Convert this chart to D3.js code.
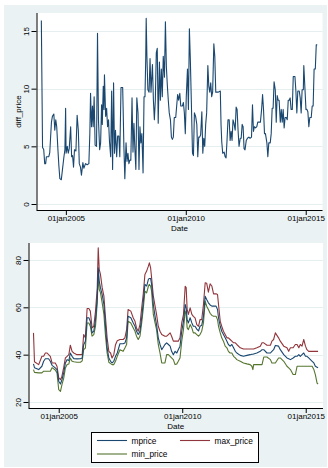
<!DOCTYPE html>
<html>
<head>
<meta charset="utf-8">
<script src="https://cdn.jsdelivr.net/npm/d3@7"></script>
<style>
  html, body { margin: 0; padding: 0; background: #ffffff; }
  svg { display: block; }
  text { font-family: "Liberation Sans", Arial, Helvetica, sans-serif; fill: #000; }
</style>
</head>
<body>
<svg id="chart" width="328" height="468"></svg>
<script>
// Weekly spread between highest and lowest quoted price (decimal years)
const diffDates = [
  2003.98,2004.03,2004.06,2004.08,2004.12,2004.16,2004.19,2004.29,2004.33,2004.36,
  2004.40,2004.44,2004.50,2004.54,2004.58,2004.62,2004.67,2004.71,2004.75,2004.81,
  2004.86,2004.92,2004.96,2004.99,2005.01,2005.06,2005.10,2005.14,2005.20,2005.24,
  2005.28,2005.32,2005.36,2005.42,2005.47,2005.52,2005.56,2005.61,2005.65,2005.71,
  2005.75,2005.82,2005.89,2005.96,2006.00,2006.03,2006.07,2006.11,2006.14,2006.18,
  2006.22,2006.28,2006.32,2006.36,2006.41,2006.45,2006.49,2006.52,2006.56,2006.59,
  2006.61,2006.66,2006.70,2006.74,2006.78,2006.82,2006.87,2006.91,2006.95,2006.99,
  2007.03,2007.07,2007.12,2007.16,2007.21,2007.25,2007.30,2007.37,2007.39,2007.42,
  2007.46,
  2007.51,2007.55,2007.59,2007.63,2007.67,2007.71,2007.76,2007.80,2007.84,2007.88,
  2007.92,2007.96,2008.01,2008.05,2008.09,2008.13,2008.17,2008.22,2008.26,2008.30,
  2008.33,2008.35,2008.38,2008.42,2008.47,2008.51,2008.55,2008.61,2008.65,2008.69,
  2008.73,2008.77,2008.81,2008.85,2008.90,2008.94,2008.98,2009.02,2009.06,2009.11,
  2009.15,2009.19,2009.23,2009.27,2009.31,2009.36,2009.40,2009.44,2009.48,2009.52,
  2009.58,2009.62,2009.66,2009.70,2009.75,2009.79,2009.86,2009.90,2009.94,2009.98,
  2010.02,2010.07,2010.11,2010.15,2010.19,2010.23,2010.28,2010.32,2010.36,2010.41,
  2010.46,2010.50,2010.54,2010.58,2010.62,2010.67,2010.71,2010.75,2010.79,2010.83,
  2010.87,2010.92,2010.96,2011.00,2011.04,2011.08,2011.12,2011.17,2011.21,2011.25,
  2011.31,2011.36,2011.44,
  2011.47,2011.50,2011.54,2011.60,2011.64,2011.68,2011.72,2011.76,2011.81,2011.85,
  2011.89,2011.93,2011.97,2012.01,2012.06,2012.10,2012.14,2012.18,2012.22,2012.27,
  2012.31,2012.35,2012.39,2012.43,2012.47,2012.52,2012.57,2012.63,2012.68,2012.74,
  2012.78,2012.82,2012.86,2012.91,2012.96,2013.00,2013.06,2013.11,2013.16,2013.20,
  2013.24,2013.28,2013.32,2013.38,2013.42,2013.46,2013.52,2013.56,2013.60,2013.64,
  2013.68,2013.73,2013.77,2013.81,2013.85,2013.89,2013.94,2013.98,2014.02,2014.06,
  2014.10,2014.14,2014.19,2014.23,2014.27,2014.31,2014.35,2014.39,2014.44,2014.48,
  2014.55,2014.59,2014.63,2014.67,2014.73,2014.77,2014.81,2014.85,2014.90,2014.92,
  2014.97,2015.01,2015.05,2015.09,2015.13,2015.17,2015.23,2015.27,2015.31,2015.35,
  2015.40,2015.44,2015.48
];
const diffPrice = [
  15.9,4.9,4.8,4.7,3.5,3.5,4.1,4.1,4.45,5.6,
  7.1,7.6,7.8,6.4,7.3,6.7,4.7,3.3,2.2,2.1,
  3.0,4.1,4.7,8.3,4.4,5.0,4.4,4.8,6.7,4.1,
  4.2,3.2,4.7,4.6,7.7,6.4,3.5,3.2,2.5,3.6,
  3.1,3.5,3.4,3.5,6.1,9.6,6.7,8.5,6.7,9.3,
  5.1,5.0,14.8,7.3,4.7,5.3,8.6,6.9,10.2,8.2,
  11.2,7.6,8.3,6.7,7.3,5.4,4.1,9.8,3.0,10.5,
  4.4,6.4,4.1,5.9,5.9,4.1,10.1,10.1,8.2,5.0,
  2.2,
  5.3,3.7,4.4,3.5,3.8,3.8,9.2,4.5,7.0,4.7,
  3.0,9.2,7.9,3.0,6.7,5.3,6.1,2.7,9.3,9.3,
  12.5,16.1,12.8,9.9,9.7,12.6,9.7,12.1,9.0,7.3,
  9.0,13.1,13.5,7.0,12.3,9.0,11.7,9.3,12.8,11.0,
  15.8,11.9,10.3,9.0,7.9,7.3,5.8,5.6,5.8,7.5,
  7.5,8.5,9.5,9.0,9.6,8.5,8.5,8.8,7.9,6.1,
  9.3,11.7,8.2,15.2,12.5,9.0,4.4,4.2,7.9,7.6,
  6.9,4.1,5.8,5.8,6.0,8.0,4.4,5.7,5.0,6.9,
  7.9,12.0,10.2,9.7,10.5,9.3,9.7,13.9,12.8,9.7,
  9.7,9.7,9.8,
  6.9,5.4,4.4,4.5,4.1,4.0,5.5,7.3,7.3,5.5,
  6.3,5.5,7.3,7.0,6.4,8.4,8.2,6.4,5.0,5.7,
  5.7,6.9,6.7,4.8,4.7,5.5,5.7,5.8,5.7,5.8,
  8.6,6.3,6.7,6.6,6.7,7.1,7.1,7.1,8.2,9.5,
  8.2,6.1,6.1,5.3,4.1,5.3,5.3,6.1,8.3,8.3,
  10.6,9.9,7.1,9.4,9.0,9.0,7.1,8.2,7.1,8.2,
  6.6,7.5,7.5,7.3,9.0,9.0,9.2,8.2,8.2,11.05,
  11.05,9.8,7.9,9.8,9.8,9.2,7.9,9.9,9.9,12.0,
  9.9,8.2,8.2,8.0,6.7,7.5,7.5,8.5,8.5,11.7,
  11.7,13.8,13.8
];

// Mean, highest and lowest price on each date (decimal years)
const priceDates = [
  2003.98,2004.02,2004.19,2004.32,2004.39,2004.46,2004.53,2004.59,2004.66,2004.73,
  2004.86,2004.93,2005.00,2005.07,2005.13,2005.20,2005.27,2005.34,2005.41,2005.47,
  2005.54,2005.61,2005.74,2005.88,2005.95,2006.01,2006.08,2006.15,2006.22,2006.28,
  2006.35,2006.42,2006.49,2006.56,2006.60,2006.64,2006.69,2006.76,2006.83,2006.89,
  2006.96,2007.03,2007.10,2007.16,2007.23,2007.30,2007.37,2007.48,2007.61,2007.68,
  2007.75,2007.81,2007.92,2008.02,2008.09,2008.15,2008.22,2008.29,2008.36,2008.42,
  2008.49,2008.56,2008.63,2008.67,2008.72,2008.76,2008.83,2008.90,2008.96,2009.03,
  2009.10,2009.17,2009.30,2009.37,2009.44,2009.51,2009.57,2009.64,2009.71,2009.78,
  2009.84,2009.91,2009.98,2010.05,2010.12,2010.16,2010.20,2010.25,2010.32,2010.39,
  2010.45,2010.52,2010.59,2010.66,2010.72,2010.79,2010.86,2010.93,2010.99,2011.06,
  2011.13,2011.20,2011.27,2011.37,2011.43,2011.47,2011.54,2011.60,2011.67,2011.74,
  2011.81,2011.87,2011.94,2012.01,2012.08,2012.15,2012.21,2012.35,2012.48,2012.62,
  2012.75,2012.82,2012.86,2012.89,2013.02,2013.16,2013.23,2013.30,2013.43,2013.57,
  2013.63,2013.70,2013.77,2013.90,2013.97,2014.11,2014.24,2014.31,2014.38,2014.49,
  2014.58,2014.65,2014.72,2014.78,2014.85,2014.92,2014.99,2015.05,2015.12,2015.26,
  2015.33,2015.39,2015.46,2015.50
];
const mprice = [
  36.1,34.5,33.7,35.1,37.2,38.3,38.3,38.3,37.2,35.5,
  34.4,33.7,28.8,27.6,29.4,32.3,36.5,37.9,37.5,40.7,
  39.3,38.3,38.2,38.3,38.6,44.2,45.7,55.6,55.6,54.1,
  49.2,49.9,54.8,64.0,76.7,71.1,68.3,65.4,61.2,52.7,
  42.9,38.6,37.2,36.5,37.2,39.3,40.7,44.6,44.6,44.9,
  47.1,56.2,55.6,53.4,52.0,49.9,48.5,49.9,55.6,61.9,
  69.7,69.0,71.8,72.2,72.2,69.7,61.2,56.2,52.7,47.1,
  44.3,42.1,44.3,45.0,44.3,43.6,41.4,40.0,41.4,40.7,
  42.1,43.6,49.9,54.1,61.2,59.8,54.8,53.4,55.6,53.4,
  52.0,52.0,50.8,50.0,52.0,52.4,56.2,64.7,63.3,61.9,
  61.0,60.5,60.5,60.5,59.1,55.6,52.0,49.9,48.5,47.1,
  45.7,44.3,43.6,44.3,42.9,41.4,40.7,39.7,39.3,39.7,
  40.0,40.2,40.2,40.3,40.7,41.4,42.1,42.1,40.7,40.7,
  41.4,42.1,43.9,43.6,42.1,40.0,38.6,38.3,37.9,38.6,
  39.3,39.3,40.0,39.3,40.0,40.7,39.3,39.3,38.6,37.2,
  36.5,35.1,34.7,34.4
];
const maxPrice = [
  49.2,37.0,35.8,39.3,39.3,40.7,40.7,40.0,39.3,36.5,
  36.5,35.1,30.2,29.4,30.9,34.5,38.6,39.3,40.0,44.0,
  41.4,40.7,40.0,40.0,40.0,48.5,47.1,59.5,59.5,58.4,
  51.3,52.0,58.4,68.3,85.2,76.0,73.9,68.3,64.7,56.3,
  47.1,41.4,40.7,38.6,40.0,44.2,45.9,46.4,46.4,47.1,
  50.6,59.1,58.4,55.5,54.1,51.3,49.9,52.7,59.8,65.4,
  73.9,75.3,77.4,78.8,76.7,72.5,64.7,60.5,57.0,52.0,
  49.9,48.5,47.8,47.8,48.5,49.2,47.8,45.7,45.7,45.7,
  45.7,47.1,53.4,56.9,68.9,68.3,59.1,57.0,59.8,57.0,
  56.2,55.5,52.7,52.0,54.8,54.8,61.2,70.4,70.2,66.4,
  69.9,69.0,65.7,65.7,65.4,61.2,54.1,52.0,49.9,48.5,
  47.1,47.1,46.4,45.7,45.0,45.0,44.3,42.9,42.4,42.4,
  42.4,42.4,42.4,42.4,42.9,43.6,45.0,45.0,44.0,44.0,
  45.7,46.4,49.2,47.1,45.7,43.6,42.9,41.4,42.9,42.9,
  44.3,44.3,42.9,44.3,43.6,46.4,43.6,42.1,41.4,41.4,
  41.4,41.4,41.4,41.4
];
const minPrice = [
  33.7,32.5,32.3,32.3,33.0,33.0,33.0,33.0,33.0,34.5,
  33.5,32.3,25.2,24.5,27.3,30.0,34.4,35.8,36.1,38.6,
  37.2,37.0,36.8,36.8,37.4,42.1,42.8,53.4,53.4,52.0,
  47.8,48.5,52.0,61.9,73.9,67.6,66.2,61.9,57.0,48.5,
  40.7,36.8,36.2,35.8,35.8,37.2,39.3,42.1,41.4,42.8,
  44.3,54.1,53.4,51.3,49.9,47.8,46.4,47.8,53.4,59.1,
  66.8,66.1,68.9,69.7,68.9,66.8,57.0,53.4,50.6,44.3,
  40.7,36.5,36.5,40.0,40.0,39.3,38.6,37.9,35.8,36.1,
  37.2,38.6,45.7,50.6,58.4,57.0,51.3,50.6,52.7,51.3,
  49.2,49.2,48.5,47.8,48.5,49.9,53.4,62.6,60.5,59.1,
  57.5,56.6,56.2,56.2,54.8,52.0,49.2,47.1,45.7,43.6,
  42.9,41.4,40.7,40.7,39.3,38.6,37.9,37.2,36.5,36.1,
  35.8,35.1,33.7,35.8,35.8,35.8,35.8,39.0,39.0,37.9,
  36.5,36.5,36.5,38.6,38.6,37.2,35.1,34.4,33.7,31.6,
  31.6,35.1,35.1,35.1,35.1,35.1,35.1,35.1,35.1,35.1,
  33.7,31.6,28.0,27.6
];

const yearTicks = [2005, 2010, 2015];
const diffTicks = [0, 5, 10, 15];
const priceTicks = [20, 40, 60, 80];
const seriesNames = ["mprice", "max_price", "min_price"];
const xTitle = "Date";
const diffTitle = "diff_price";

// Stata s2color look
const colors = { mprice: "#1a476f", max_price: "#90353b", min_price: "#55752f" };
const bg = "#eaf2f3";
const gridColor = "#e6eff0";
const fontSize = "8px";

// decimal year -> UTC Date
function toDate(y) {
  const yr = Math.floor(y);
  const a = Date.UTC(yr, 0, 1), b = Date.UTC(yr + 1, 0, 1);
  return new Date(a + (y - yr) * (b - a));
}
const fmt = d3.utcFormat("%d%b%Y");
const tickLabel = d => fmt(d).toLowerCase();

const svg = d3.select("#chart");

// graph region background
svg.append("rect").attr("x", 4).attr("y", 5).attr("width", 323).attr("height", 462).attr("fill", bg);

function panel(cfg) {
  const { left, right, top, bottom, yDomain, yTicks } = cfg;
  const g = svg.append("g");
  const x = d3.scaleUtc().domain([toDate(2003.778), toDate(2015.70)]).range([left, right]);
  const y = d3.scaleLinear().domain(yDomain).range([bottom, top]);

  g.append("rect").attr("x", left).attr("y", top)
    .attr("width", right - left).attr("height", bottom - top).attr("fill", "#fff");

  // horizontal grid
  g.append("g").selectAll("line").data(yTicks).join("line")
    .attr("x1", left).attr("x2", right)
    .attr("y1", d => Math.round(y(d)) + 0.5).attr("y2", d => Math.round(y(d)) + 0.5)
    .attr("stroke", gridColor).attr("stroke-width", 1);

  // y axis
  const ya = g.append("g").attr("transform", `translate(${left},0)`)
    .call(d3.axisLeft(y).tickValues(yTicks).tickSize(5).tickPadding(3));
  ya.select(".domain").attr("stroke", "#000").attr("d", `M0.5,${top}V${bottom}`);
  ya.selectAll(".tick line").attr("stroke", "#000");
  ya.selectAll(".tick text")
    .attr("x", null).attr("dy", null)
    .attr("transform", "translate(-10.5,0) rotate(-90)")
    .attr("text-anchor", "middle")
    .attr("dominant-baseline", "central")
    .style("font-size", fontSize).style("font-family", null);

  // x axis
  const xa = g.append("g").attr("transform", `translate(0,${bottom})`)
    .call(d3.axisBottom(x).tickValues(yearTicks.map(v => toDate(v))).tickFormat(tickLabel)
      .tickSize(5).tickPadding(0.5));
  xa.select(".domain").attr("stroke", "#000").attr("d", `M${left},0.5H${right}`);
  xa.selectAll(".tick line").attr("stroke", "#000");
  xa.selectAll(".tick text").style("font-size", fontSize).style("font-family", null);

  g.append("text").attr("x", (left + right) / 2).attr("y", bottom + 18.3)
    .attr("text-anchor", "middle").attr("dominant-baseline", "central")
    .style("font-size", fontSize).text(xTitle);

  return { g, x, y };
}

// top: spread
const p1 = panel({ left: 36.5, right: 322.5, top: 13, bottom: 210, yDomain: [-0.52, 16.56], yTicks: diffTicks });
p1.g.append("text")
  .attr("transform", `translate(18.5,${(13 + 210) / 2}) rotate(-90)`)
  .attr("text-anchor", "middle").attr("dominant-baseline", "central")
  .style("font-size", fontSize).text(diffTitle);
p1.g.append("path")
  .datum(diffDates.map((d, i) => [d, diffPrice[i]]))
  .attr("fill", "none").attr("stroke", colors.mprice).attr("stroke-width", 1.1)
  .attr("stroke-linejoin", "round")
  .attr("d", d3.line().x(d => p1.x(toDate(d[0]))).y(d => p1.y(d[1])));

// bottom: price levels
const p2 = panel({ left: 28.5, right: 323, top: 243, bottom: 408, yDomain: [17.46, 87.18], yTicks: priceTicks });
const priceSeries = [
  { name: "min_price", values: minPrice },
  { name: "max_price", values: maxPrice },
  { name: "mprice", values: mprice }
];
const line2 = d3.line().x(d => p2.x(toDate(d[0]))).y(d => p2.y(d[1]));
priceSeries.forEach(s => {
  p2.g.append("path")
    .datum(priceDates.map((d, i) => [d, s.values[i]]))
    .attr("fill", "none").attr("stroke", colors[s.name]).attr("stroke-width", 1.1)
    .attr("stroke-linejoin", "round")
    .attr("d", line2);
});

// legend
const lg = svg.append("g");
lg.append("rect").attr("x", 91.5).attr("y", 432.5).attr("width", 167).attr("height", 30)
  .attr("fill", "#fff").attr("stroke", "#000").attr("stroke-width", 1);
const slots = [
  { x: 97, y: 440.5 },
  { x: 180, y: 440.5 },
  { x: 97, y: 454 }
];
seriesNames.forEach((name, i) => {
  const s = slots[i];
  lg.append("line").attr("x1", s.x).attr("x2", s.x + 30).attr("y1", s.y).attr("y2", s.y)
    .attr("stroke", colors[name]).attr("stroke-width", 1.1);
  lg.append("text").attr("x", s.x + 34.5).attr("y", s.y).attr("dominant-baseline", "central")
    .style("font-size", "8.3px").text(name);
});
</script>
</body>
</html>
